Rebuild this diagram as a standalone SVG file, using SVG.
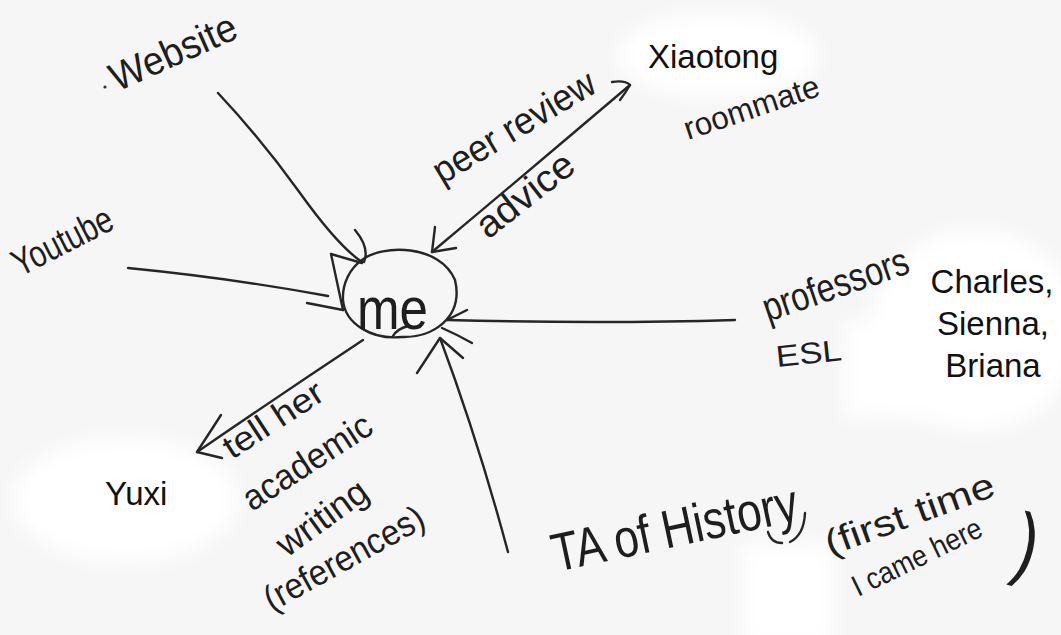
<svg xmlns="http://www.w3.org/2000/svg" width="1061" height="635" viewBox="0 0 1061 635">
<defs>
<filter id="soft" x="-30%" y="-30%" width="160%" height="160%"><feGaussianBlur stdDeviation="9"/></filter>
<style>
.ink{fill:none;stroke:#262626;stroke-width:2.4;stroke-linecap:round;stroke-linejoin:round}
.hw{font-family:"Liberation Sans","DejaVu Sans",sans-serif;fill:#1e1e1e}
.ty{font-family:"Liberation Sans",Arial,sans-serif;fill:#111}
.blob{fill:#ffffff;filter:url(#soft)}
</style>
</defs>
<rect width="1061" height="635" fill="#f6f6f6"/>
<g id="patches">
<ellipse class="blob" cx="718" cy="55" rx="100" ry="42"/>
<ellipse class="blob" cx="125" cy="500" rx="112" ry="62"/>
<ellipse class="blob" cx="975" cy="330" rx="105" ry="100"/>
<rect class="blob" x="845" y="322" width="80" height="95"/>
<rect class="blob" x="742" y="545" width="92" height="100"/>
</g>
<g id="connectors">
<path class="ink" d="M218,93 Q262,140 300,193 T362,262"/>
<path class="ink" d="M355,230 Q370,248 364,262"/>
<path class="ink" d="M343,310 L331,254 Q345,258 362,263"/>
<path class="ink" d="M128,268 Q230,278 328,296"/>
<path class="ink" d="M307,303 L343,310"/>
<path class="ink" d="M432,252 Q530,170 630,85"/>
<path class="ink" d="M435,227 L432,252 L456,248"/>
<path class="ink" d="M612,82 Q625,80 630,85 Q626,92 620,100"/>
<path class="ink" d="M735,320 Q600,324 447,320"/>
<path class="ink" d="M467,310 L447,320"/>
<path class="ink" d="M442,328 Q458,335 472,343"/>
<path class="ink" d="M508,552 Q478,440 440,338"/>
<path class="ink" d="M417,373 L440,338 L463,358"/>
<path class="ink" d="M363,340 Q280,395 197,452"/>
<path class="ink" d="M221,415 L197,452 L222,458"/>
<text class="hw" font-size="38" transform="translate(442,185) rotate(-31)" textLength="183" lengthAdjust="spacingAndGlyphs">peer review</text>
<text class="hw" font-size="38" transform="translate(488,240) rotate(-38)" textLength="114" lengthAdjust="spacingAndGlyphs">advice</text>
<text class="hw" font-size="34" transform="translate(232,460) rotate(-33)" textLength="113" lengthAdjust="spacingAndGlyphs">tell her</text>
<text class="hw" font-size="36" transform="translate(252,512) rotate(-33)" textLength="147" lengthAdjust="spacingAndGlyphs">academic</text>
<text class="hw" font-size="36" transform="translate(287,558) rotate(-36)" textLength="104" lengthAdjust="spacingAndGlyphs">writing</text>
<text class="hw" font-size="36" transform="translate(272,612) rotate(-29)" textLength="178" lengthAdjust="spacingAndGlyphs">(references)</text>
</g>
<g id="node-me">
<path class="ink" d="M362,260 C382,244 440,244 455,280 C464,318 432,338 402,337 C372,340 345,324 343,300 C342,284 350,268 362,260"/>
<path class="ink" d="M393,336 Q397,329 408,326"/>
<text class="hw" font-size="60" x="357" y="329" textLength="71" lengthAdjust="spacingAndGlyphs">me</text>
</g>
<g id="node-website">
<circle cx="105" cy="87" r="1.6" fill="#333"/>
<text class="hw" font-size="40" transform="translate(117,92) rotate(-24)" textLength="135" lengthAdjust="spacingAndGlyphs">Website</text>
</g>
<g id="node-youtube">
<text class="hw" font-size="38" transform="translate(20,277) rotate(-27)" textLength="108" lengthAdjust="spacingAndGlyphs">Youtube</text>
</g>
<g id="node-xiaotong">
<text class="ty" font-size="33" x="648" y="68">Xiaotong</text>
<text class="hw" font-size="32" transform="translate(688,140) rotate(-18.5)" textLength="141" lengthAdjust="spacingAndGlyphs">roommate</text>
</g>
<g id="node-professors">
<text class="hw" font-size="40" transform="translate(768,322) rotate(-19)" textLength="152" lengthAdjust="spacingAndGlyphs">professors</text>
<text class="hw" font-size="30" transform="translate(777,367) rotate(-6)" textLength="66" lengthAdjust="spacingAndGlyphs">ESL</text>
<text class="ty" font-size="33" text-anchor="middle" x="992" y="293">Charles,</text>
<text class="ty" font-size="33" text-anchor="middle" x="993" y="335">Sienna,</text>
<text class="ty" font-size="33" text-anchor="middle" x="993" y="377">Briana</text>
</g>
<g id="node-yuxi">
<text class="ty" font-size="33" x="105" y="505">Yuxi</text>
</g>
<g id="node-ta">
<text class="hw" font-size="54" transform="translate(556,572) rotate(-12)" textLength="250" lengthAdjust="spacingAndGlyphs">TA of History</text>
<path class="ink" d="M768,532 Q771,543 782,543 M790,542 Q804,535 805,513"/>
<text class="hw" font-size="36" transform="translate(830,556) rotate(-20)" textLength="178" lengthAdjust="spacingAndGlyphs">(first time</text>
<text class="hw" font-size="30" transform="translate(858,597) rotate(-26)" textLength="141" lengthAdjust="spacingAndGlyphs">I came here</text>
<text class="hw" font-size="82" transform="translate(1010,568) rotate(14)" textLength="22" lengthAdjust="spacingAndGlyphs">)</text>
</g>
</svg>
